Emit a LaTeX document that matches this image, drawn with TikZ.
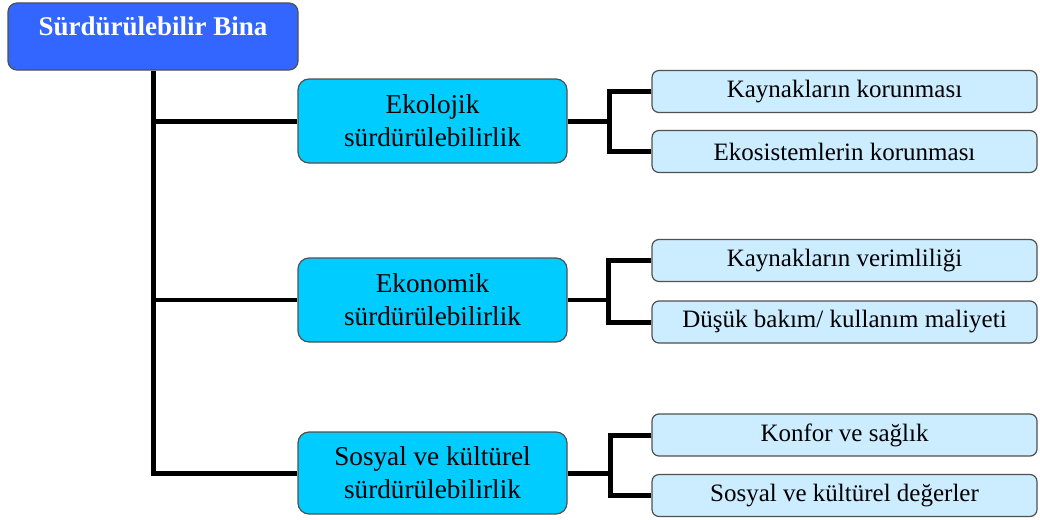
\documentclass[tikz,border=0pt]{standalone}
\usepackage{fontspec}
\setmainfont{Liberation Serif}
\definecolor{topblue}{HTML}{3366FF}
\definecolor{midcyan}{HTML}{00CCFF}
\definecolor{leafblue}{HTML}{CCECFF}
\definecolor{edge}{HTML}{505050}
\begin{document}
\begin{tikzpicture}[x=1pt,y=-1pt,
  topbox/.style={draw=edge,line width=1.2pt,fill=topblue,rounded corners=9pt,inner sep=0pt,
    minimum width=290pt,text height=33pt,text depth=34pt,text=white,
    font=\fontsize{27}{33}\selectfont\bfseries},
  midbox/.style={draw=edge,line width=1.2pt,fill=midcyan,rounded corners=11pt,
    minimum width=269pt,minimum height=84pt,align=center,inner sep=0pt,
    font=\fontsize{27.2}{33}\selectfont},
  leafbox/.style={draw=edge,line width=1.2pt,fill=leafblue,rounded corners=7pt,
    minimum width=385pt,minimum height=42pt,inner sep=0pt,
    font=\fontsize{25}{29}\selectfont},
  conn/.style={line width=5pt,line join=miter,draw=black}]
\useasboundingbox (0,0) rectangle (1040,519);

\node[topbox] (top) at (153,36.5) {Sürdürülebilir Bina};

\node[midbox] (eko) at (432.5,121) {Ekolojik\\sürdürülebilirlik};
\node[midbox] (eco) at (432.5,300) {Ekonomik\\sürdürülebilirlik};
\node[midbox,minimum height=82pt] (sos) at (432.5,473) {Sosyal ve kültürel\\sürdürülebilirlik};

\node[leafbox] (k1) at (844.5,91.5) {Kaynakların korunması};
\node[leafbox] (k2) at (844.5,151.5) {Ekosistemlerin korunması};
\node[leafbox] (k3) at (844.5,260.5) {Kaynakların verimliliği};
\node[leafbox] (k4) at (844.5,322) {Düşük bakım/ kullanım maliyeti};
\node[leafbox] (k5) at (844.5,435) {Konfor ve sağlık};
\node[leafbox] (k6) at (844.5,495.5) {Sosyal ve kültürel değerler};

\coordinate (b1) at (609,121);
\coordinate (b2) at (608,300);
\coordinate (b3) at (610,473);

\draw[conn] (top.south) |- (sos.west);
\draw[conn] (eko.west -| top.south) -- (eko.west);
\draw[conn,line width=4pt] (eco.west -| top.south) -- (eco.west);

\draw[conn] (eko.east) -- (b1);
\draw[conn] (k1.west) -| (b1) |- (k2.west);
\draw[conn,line width=4pt] (eco.east) -- (b2);
\draw[conn] (k3.west) -| (b2) |- (k4.west);
\draw[conn] (sos.east) -- (b3);
\draw[conn] (k5.west) -| (b3) |- (k6.west);
\end{tikzpicture}
\end{document}
